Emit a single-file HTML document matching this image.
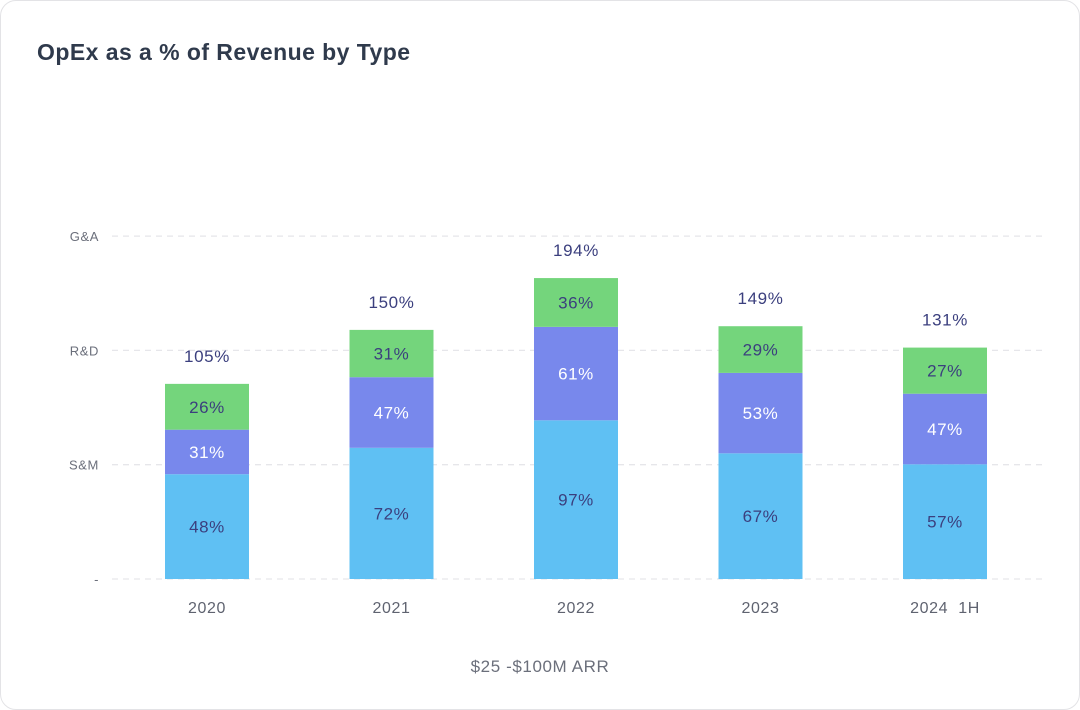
<!DOCTYPE html>
<html><head><meta charset="utf-8"><style>
html,body{margin:0;padding:0;background:#fff;}
body{width:1080px;height:710px;overflow:hidden;font-family:"Liberation Sans",sans-serif;}
.card{position:absolute;left:0;top:0;width:1078px;height:708px;border:1px solid #e3e3e6;border-radius:16px;background:#fff;}
.title{position:absolute;left:37px;top:39px;font-size:23px;font-weight:bold;color:#2f3a4c;letter-spacing:0.45px;}
svg{position:absolute;left:0;top:0;}
svg text{letter-spacing:0.6px;}
</style></head><body>
<div class="card"></div>
<div class="title">OpEx as a % of Revenue by Type</div>
<svg id="chart" width="1080" height="710"></svg>
<script>
const categories = ["2020","2021","2022","2023","2024\u00a0\u00a01H"];
const smValues = [48,72,97,67,57];
const rdValues = [31,47,61,53,47];
const gaValues = [26,31,36,29,27];
const totals = ["105%","150%","194%","149%","131%"];
const yTickLabels = ["-","S&M","R&D","G&A"];
const xAxisTitle = "$25 -$100M ARR";

const NS="http://www.w3.org/2000/svg";
const svg=document.getElementById('chart');
const baseY=579, gridStep=114.3, x0=207, xStep=184.5, barW=84;
// per-series height scales (approximating the reference rendering)
const hSM=v=>52+1.1*v, hRD=v=>-6+1.63*v, hGA=v=>38+0.3*v;
const xPos=i=>x0+i*xStep;
function mk(tag,attrs,text){const e=document.createElementNS(NS,tag);for(const k in attrs)e.setAttribute(k,attrs[k]);if(text!==undefined)e.textContent=text;svg.appendChild(e);return e;}

yTickLabels.forEach((t,i)=>{
  const y=baseY-i*gridStep;
  const l=mk('line',{x1:112,x2:1045,y1:y,y2:y,stroke:'#e6e6ea','stroke-width':1.3,'stroke-dasharray':'6,5'});
  
  
  const tx=mk('text',{x:99,y:y+5,'text-anchor':'end','font-size':13,fill:'#6b6f7b'},t);
  
  
});

const series=[
 {vals:smValues,h:hSM,fill:'#5fc0f3',tc:'#3b3f7e',name:'sm'},
 {vals:rdValues,h:hRD,fill:'#7888ec',tc:'#ffffff',name:'rd'},
 {vals:gaValues,h:hGA,fill:'#74d57c',tc:'#3b3f7e',name:'ga'}];
categories.forEach((c,i)=>{
  let y=baseY; const cx=xPos(i);
  series.forEach(s=>{
    const h=s.h(s.vals[i]); y-=h;
    const r=mk('rect',{x:cx-barW/2,y:y,width:barW,height:h,fill:s.fill});
    
    
    const t=mk('text',{x:cx,y:y+h/2+6,'text-anchor':'middle','font-size':17,fill:s.tc},s.vals[i]+'%');
    
    
  });
  const tt=mk('text',{x:cx,y:y-22,'text-anchor':'middle','font-size':17,fill:'#3b3f7e'},totals[i]);
  
  
  const xl=mk('text',{x:cx,y:613,'text-anchor':'middle','font-size':16,fill:'#5f6370'},c);
  
  
});
const xt=mk('text',{x:540,y:672,'text-anchor':'middle','font-size':17,fill:'#6b6f7b'},xAxisTitle);


</script>
</body></html>
